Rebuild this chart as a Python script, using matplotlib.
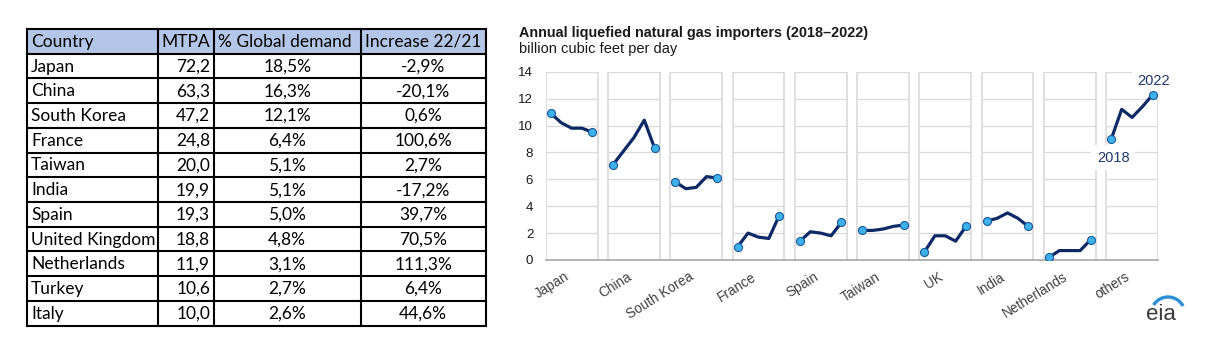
"""
lng_importers.py
================
Left: 2022 LNG importers table (MTPA, share of global demand, change 22/21).
Right: EIA panel chart of annual LNG imports per country, 2018-2022.
"""

import numpy as np
import matplotlib
matplotlib.use('Agg')
import matplotlib.pyplot as plt
from matplotlib.patches import Rectangle, Arc

# ── table data ────────────────────────────────────────────────────────────────
table_header    = ["Country", "MTPA", "% Global demand", "Increase 22/21"]
table_countries = ["Japan", "China", "South Korea", "France", "Taiwan", "India",
                   "Spain", "United Kingdom", "Netherlands", "Turkey", "Italy"]
mtpa            = [72.2, 63.3, 47.2, 24.8, 20.0, 19.9, 19.3, 18.8, 11.9, 10.6, 10.0]
global_share    = [18.5, 16.3, 12.1, 6.4, 5.1, 5.1, 5.0, 4.8, 3.1, 2.7, 2.6]
increase        = [-2.9, -20.1, 0.6, 100.6, 2.7, -17.2, 39.7, 70.5, 111.3, 6.4, 44.6]

# ── chart data (billion cubic feet per day) ───────────────────────────────────
years     = [2018, 2019, 2020, 2021, 2022]
importers = ["Japan", "China", "South Korea", "France", "Spain",
             "Taiwan", "UK", "India", "Netherlands", "others"]
lng_imports = [
    [10.9, 10.2, 9.8, 9.8, 9.5],    # Japan
    [7.1, 8.1, 9.1, 10.4, 8.3],     # China
    [5.8, 5.3, 5.4, 6.2, 6.1],      # South Korea
    [1.0, 2.0, 1.7, 1.6, 3.3],      # France
    [1.4, 2.1, 2.0, 1.8, 2.8],      # Spain
    [2.2, 2.2, 2.3, 2.5, 2.6],      # Taiwan
    [0.6, 1.8, 1.8, 1.4, 2.5],      # UK
    [2.9, 3.1, 3.5, 3.1, 2.5],      # India
    [0.2, 0.7, 0.7, 0.7, 1.5],      # Netherlands
    [9.0, 11.2, 10.6, 11.4, 12.3],  # others
]

# ── style ─────────────────────────────────────────────────────────────────────
W, H     = 1220, 348
HEAD_BG  = "#b4c6e7"
NAVY     = "#0d2a66"
DOT      = "#3cb1ea"
DOT_EDGE = "#1c5a9c"
GRID     = "#d9d9d9"
LABEL    = "#1f3870"
TABLE_FONT = "Lato"

plt.rcParams['font.family'] = ['Liberation Sans', 'DejaVu Sans']

fig = plt.figure(figsize=(W / 100, H / 100), dpi=100, facecolor='white')

# pixel canvas for the table and the logo (y grows downwards)
canvas = fig.add_axes([0, 0, 1, 1])
canvas.set_xlim(0, W)
canvas.set_ylim(H, 0)
canvas.axis('off')


def fmt(v, pct=False):
    s = f"{v:.1f}".replace(".", ",")
    return s + "%" if pct else s


# ── 1. Table ──────────────────────────────────────────────────────────────────
col_edges = [26.7, 157.7, 213.7, 360.7, 485.7]
top, row_h = 29.0, 24.72
n_rows = len(table_countries) + 1
bottom = top + n_rows * row_h

canvas.add_patch(Rectangle((col_edges[0], top), col_edges[-1] - col_edges[0], row_h,
                           facecolor=HEAD_BG, edgecolor='none', zorder=1))
for r in range(n_rows + 1):
    canvas.plot([col_edges[0], col_edges[-1]], [top + r * row_h] * 2,
                color='black', lw=1.5, solid_capstyle='projecting', zorder=2)
for x in col_edges:
    canvas.plot([x, x], [top, bottom], color='black', lw=1.5,
                solid_capstyle='projecting', zorder=2)

txt = dict(fontsize=12.5, family=TABLE_FONT, color='black', va='center', zorder=3)
for c, head in enumerate(table_header):
    canvas.text(col_edges[c] + 4.0, top + row_h / 2 + 0.5, head, ha='left', **txt)

for r, (name, m, s, inc) in enumerate(zip(table_countries, mtpa, global_share, increase)):
    yc = top + (r + 1.5) * row_h + 0.5
    canvas.text(col_edges[0] + 4.3, yc, name, ha='left', **txt)
    canvas.text(col_edges[2] - 3.7, yc, fmt(m), ha='right', **txt)
    canvas.text((col_edges[2] + col_edges[3]) / 2, yc, fmt(s, True), ha='center', **txt)
    canvas.text((col_edges[3] + col_edges[4]) / 2, yc, fmt(inc, True), ha='center', **txt)

# ── 2. Panel chart ────────────────────────────────────────────────────────────
ax = fig.add_axes([545.7 / W, 1 - 260 / H, 612.3 / W, 188.3 / H])
ax.set_facecolor('none')

period = len(years) + 1   # five years plus a one-slot gap between panels
centers = []
for i, vals in enumerate(lng_imports):
    x = i * period + np.arange(len(years))
    v = np.array(vals)
    lo, hi = x[0] - 0.5, x[-1] + 0.5
    centers.append(x.mean())
    ax.hlines(np.arange(2, 15, 2), lo, hi, color=GRID, lw=0.9, zorder=1)
    ax.vlines([lo, hi], 0, 14, color=GRID, lw=1.2, zorder=1)
    ax.plot(x, v, color=NAVY, lw=2.3, zorder=3, solid_joinstyle='round')
    ax.plot(x[[0, -1]], v[[0, -1]], 'o', ms=5.8, mfc=DOT, mec=DOT_EDGE,
            mew=0.8, zorder=4)

ax.set_xlim(-0.5, len(importers) * period - 1.5)
ax.set_ylim(0, 14)
ax.set_yticks(np.arange(0, 15, 2))
ax.tick_params(axis='y', length=0, pad=9, labelsize=9.5, colors='#1a1a1a')
ax.set_xticks(centers)
ax.set_xticklabels(importers, rotation=32, ha='right', fontsize=9.8, color='#404040')
ax.tick_params(axis='x', length=0, pad=7)
for side in ['top', 'right', 'left']:
    ax.spines[side].set_visible(False)
ax.spines['bottom'].set_color('#a6a6a6')
ax.spines['bottom'].set_linewidth(1.2)

# year call-outs on the "others" panel (white boxes sit under the line)
last_x = (len(importers) - 1) * period + np.arange(len(years))
last_v = lng_imports[-1]
box = dict(facecolor='white', edgecolor='none', pad=4)
ax.annotate(str(years[0]), (last_x[0], last_v[0]), xytext=(2, -19),
            textcoords='offset pixels', ha='center', va='center',
            fontsize=10.5, color=LABEL, bbox=box, zorder=2)
ax.annotate(str(years[-1]), (last_x[-1], last_v[-1]), xytext=(1, 14),
            textcoords='offset pixels', ha='center', va='center',
            fontsize=10.5, color=LABEL, bbox=box, zorder=2, annotation_clip=False)

# titles
fig.text(519 / W, 1 - 33.5 / H, "Annual liquefied natural gas importers (2018\u20132022)",
         ha='left', va='center', fontsize=10.4, fontweight='bold', color='#1a1a1a')
fig.text(519 / W, 1 - 49 / H, "billion cubic feet per day",
         ha='left', va='center', fontsize=10.5, color='#1a1a1a')

# eia mark
canvas.text(1161, 314, "eia", ha='center', va='center', fontsize=16,
            color='#3a3a3a', zorder=3)
canvas.add_patch(Arc((1168, 314), 34, 34, theta1=212, theta2=332,
                     color='#2b8fd6', lw=2.4, zorder=3))

fig.savefig("out.png", dpi=100, facecolor='white')
